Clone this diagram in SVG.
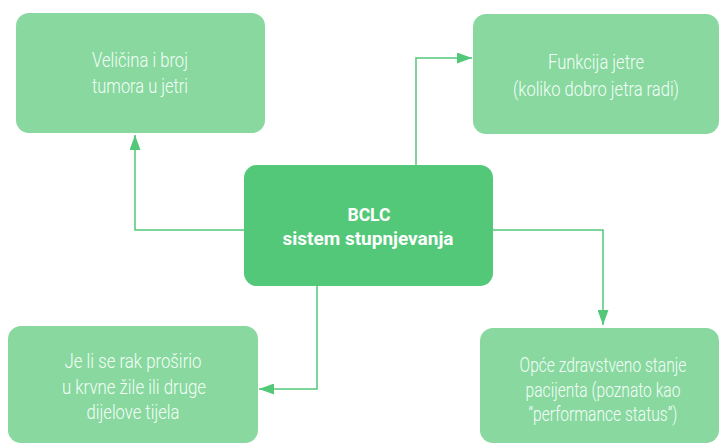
<svg xmlns="http://www.w3.org/2000/svg" width="719" height="443" viewBox="0 0 719 443">
<style>
.box{fill:#88d8a0}
.main{fill:#52c878}
.t{font-family:Roboto,"Liberation Sans",sans-serif;font-weight:300;font-size:19.5px;fill:#f4fff7;text-anchor:middle}
.b{font-family:Roboto,"Liberation Sans",sans-serif;font-weight:700;font-size:18.5px;fill:#ffffff;text-anchor:middle}
.c{fill:none;stroke:#52c878;stroke-width:1.5}
</style>
<defs>
<marker id="ah" viewBox="0 0 15 11" refX="15" refY="5.5" markerWidth="15" markerHeight="11" markerUnits="userSpaceOnUse" orient="auto">
<path d="M0,0 L15,5.5 L0,11 Z" fill="#52c878"/>
</marker>
</defs>
<rect width="719" height="443" fill="#ffffff"/>
<g id="connectors">
<polyline class="c" points="245,230 135,230 135,135" marker-end="url(#ah)"/>
<polyline class="c" points="416,165 416,58 472,58" marker-end="url(#ah)"/>
<polyline class="c" points="317,286 317,389 259,389" marker-end="url(#ah)"/>
<polyline class="c" points="493,230 603,230 603,325" marker-end="url(#ah)"/>
</g>
<g id="n-tumor">
<rect class="box" x="16" y="13" width="249" height="120" rx="13"/>
<text class="t" x="140" y="67" textLength="96" lengthAdjust="spacingAndGlyphs">Veličina i broj</text>
<text class="t" x="140" y="93" textLength="96" lengthAdjust="spacingAndGlyphs">tumora u jetri</text>
</g>
<g id="n-funkcija">
<rect class="box" x="473" y="14" width="246" height="120" rx="13"/>
<text class="t" x="596" y="69" textLength="96" lengthAdjust="spacingAndGlyphs">Funkcija jetre</text>
<text class="t" x="596" y="96" textLength="166" lengthAdjust="spacingAndGlyphs">(koliko dobro jetra radi)</text>
</g>
<g id="n-bclc">
<rect class="main" x="244" y="165" width="249" height="121" rx="13"/>
<text class="b" x="369" y="221" textLength="43" lengthAdjust="spacingAndGlyphs">BCLC</text>
<text class="b" x="368" y="245" textLength="171" lengthAdjust="spacingAndGlyphs">sistem stupnjevanja</text>
</g>
<g id="n-prosirio">
<rect class="box" x="8" y="326" width="250" height="117" rx="13"/>
<text class="t" x="133" y="368" textLength="137" lengthAdjust="spacingAndGlyphs">Je li se rak proširio</text>
<text class="t" x="134" y="394" textLength="144" lengthAdjust="spacingAndGlyphs">u krvne žile ili druge</text>
<text class="t" x="133" y="419" textLength="93" lengthAdjust="spacingAndGlyphs">dijelove tijela</text>
</g>
<g id="n-stanje">
<rect class="box" x="480" y="328" width="239" height="115" rx="13"/>
<g transform="translate(603 0) scale(0.8 1)">
<text class="t" x="0" y="372">Opće zdravstveno stanje</text>
<text class="t" x="0" y="397">pacijenta (poznato kao</text>
<text class="t" x="0" y="421">“performance status”)</text>
</g>
</g>
</svg>
